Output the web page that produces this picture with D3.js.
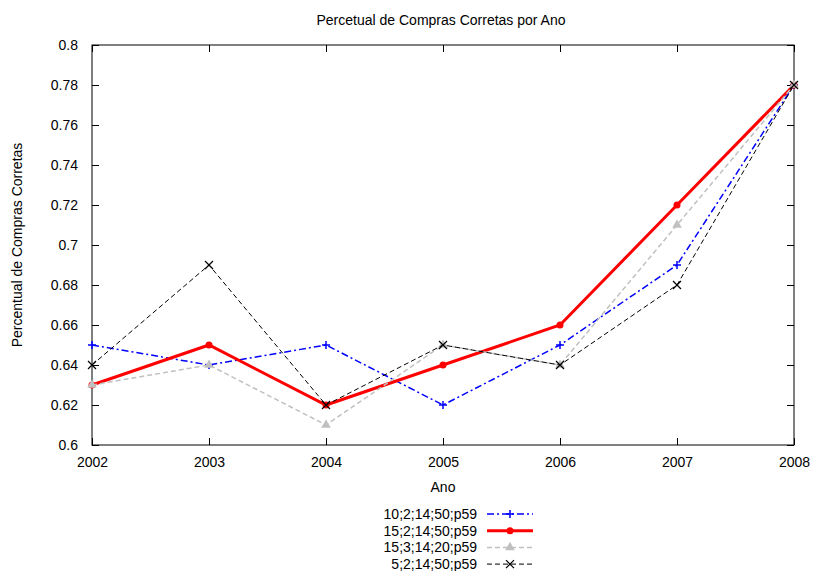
<!DOCTYPE html>
<html>
<head>
<meta charset="utf-8">
<script src="https://cdn.jsdelivr.net/npm/d3@7"></script>
<style>
  body { margin: 0; background: #fff; }
  text { font-family: "Liberation Sans", Arial, sans-serif; fill: #000; }
</style>
</head>
<body>
<svg id="chart" width="814" height="571"></svg>
<script>
// chart data
var years = [2002, 2003, 2004, 2005, 2006, 2007, 2008];
var yTicks = [0.6, 0.62, 0.64, 0.66, 0.68, 0.7, 0.72, 0.74, 0.76, 0.78, 0.8];
var seriesNames = ["10;2;14;50;p59", "15;2;14;50;p59", "15;3;14;20;p59", "5;2;14;50;p59"];
var s10_2 = [0.65, 0.64, 0.65, 0.62, 0.65, 0.69, 0.78];
var s15_2 = [0.63, 0.65, 0.62, 0.64, 0.66, 0.72, 0.78];
var s15_3 = [0.63, 0.64, 0.61, 0.65, 0.64, 0.71, 0.78];
var s5_2  = [0.64, 0.69, 0.62, 0.65, 0.64, 0.68, 0.78];

var series = [
  { name: seriesNames[0], values: s10_2, color: "#0000ff", width: 1.5, dash: "7,3,2,3", marker: "plus" },
  { name: seriesNames[1], values: s15_2, color: "#ff0000", width: 3, dash: null, marker: "circle" },
  { name: seriesNames[2], values: s15_3, color: "#c0c0c0", width: 1.5, dash: "5,3", marker: "triangle" },
  { name: seriesNames[3], values: s5_2,  color: "#000000", width: 1, dash: "5,3", marker: "cross" }
];

var svg = d3.select("#chart");
var plotLeft = 92, plotRight = 794, plotTop = 45, plotBottom = 445;

var x = d3.scaleLinear().domain([2002, 2008]).range([plotLeft, plotRight]);
var y = d3.scaleLinear().domain([0.6, 0.8]).range([plotBottom, plotTop]);

// title
svg.append("text").attr("x", 441).attr("y", 25).attr("text-anchor", "middle")
  .style("font-size", "14px").text("Percetual de Compras Corretas por Ano");

// axes (ticks inside, mirrored)
var tickLen = 7;
svg.append("g").attr("transform", "translate(0," + plotBottom + ")")
  .call(d3.axisBottom(x).tickValues(years).tickFormat(d3.format("d")).tickSizeInner(-tickLen).tickSizeOuter(0).tickPadding(12))
  .call(g => g.select(".domain").remove());
svg.append("g").attr("transform", "translate(0," + plotTop + ")")
  .call(d3.axisTop(x).tickValues(years).tickFormat("").tickSizeInner(-tickLen).tickSizeOuter(0))
  .call(g => g.select(".domain").remove());
svg.append("g").attr("transform", "translate(" + plotLeft + ",0)")
  .call(d3.axisLeft(y).tickValues(yTicks).tickFormat(d => String(+d.toFixed(2))).tickSizeInner(-tickLen).tickSizeOuter(0).tickPadding(14))
  .call(g => g.select(".domain").remove());
svg.append("g").attr("transform", "translate(" + plotRight + ",0)")
  .call(d3.axisRight(y).tickValues(yTicks).tickFormat("").tickSizeInner(-tickLen).tickSizeOuter(0))
  .call(g => g.select(".domain").remove());

svg.selectAll(".tick text").style("font-size", "14px").style("font-family", "'Liberation Sans', Arial, sans-serif");
svg.selectAll(".tick line").attr("stroke", "#000");

svg.append("rect").attr("x", plotLeft).attr("y", plotTop).attr("width", plotRight - plotLeft).attr("height", plotBottom - plotTop)
  .attr("fill", "none").attr("stroke", "#000").attr("stroke-width", 1);

// axis titles
svg.append("text").attr("x", 443).attr("y", 492).attr("text-anchor", "middle")
  .style("font-size", "14px").text("Ano");
svg.append("text").attr("transform", "translate(22,245) rotate(-90)").attr("text-anchor", "middle")
  .style("font-size", "14px").text("Percentual de Compras Corretas");

function drawMarker(g, type, cx, cy, color) {
  if (type === "plus") {
    g.append("path").attr("d", "M" + (cx - 4) + "," + cy + "H" + (cx + 4) + "M" + cx + "," + (cy - 4) + "V" + (cy + 4))
      .attr("stroke", color).attr("stroke-width", 1.5);
  } else if (type === "circle") {
    g.append("circle").attr("cx", cx).attr("cy", cy).attr("r", 3.5).attr("fill", color);
  } else if (type === "triangle") {
    g.append("path").attr("d", d3.symbol(d3.symbolTriangle, 40)()).attr("transform", "translate(" + cx + "," + cy + ")")
      .attr("fill", color);
  } else if (type === "cross") {
    g.append("path").attr("d", "M" + (cx - 4) + "," + (cy - 4) + "L" + (cx + 4) + "," + (cy + 4) + "M" + (cx - 4) + "," + (cy + 4) + "L" + (cx + 4) + "," + (cy - 4))
      .attr("stroke", color).attr("stroke-width", 1.2);
  }
}

var line = d3.line().x((d, i) => x(years[i])).y(d => y(d));

series.forEach(function (s) {
  var g = svg.append("g");
  g.append("path").datum(s.values).attr("d", line).attr("fill", "none")
    .attr("stroke", s.color).attr("stroke-width", s.width).attr("stroke-dasharray", s.dash);
  s.values.forEach(function (v, i) { drawMarker(g, s.marker, x(years[i]), y(v), s.color); });
});

// legend
series.forEach(function (s, i) {
  var ly = 514 + i * 16.7;
  var g = svg.append("g");
  g.append("text").attr("x", 477).attr("y", ly + 5).attr("text-anchor", "end")
    .style("font-size", "14px").text(s.name);
  g.append("line").attr("x1", 487).attr("x2", 533).attr("y1", ly).attr("y2", ly)
    .attr("stroke", s.color).attr("stroke-width", s.width).attr("stroke-dasharray", s.dash);
  drawMarker(g, s.marker, 510, ly, s.color);
});
</script>
</body>
</html>
